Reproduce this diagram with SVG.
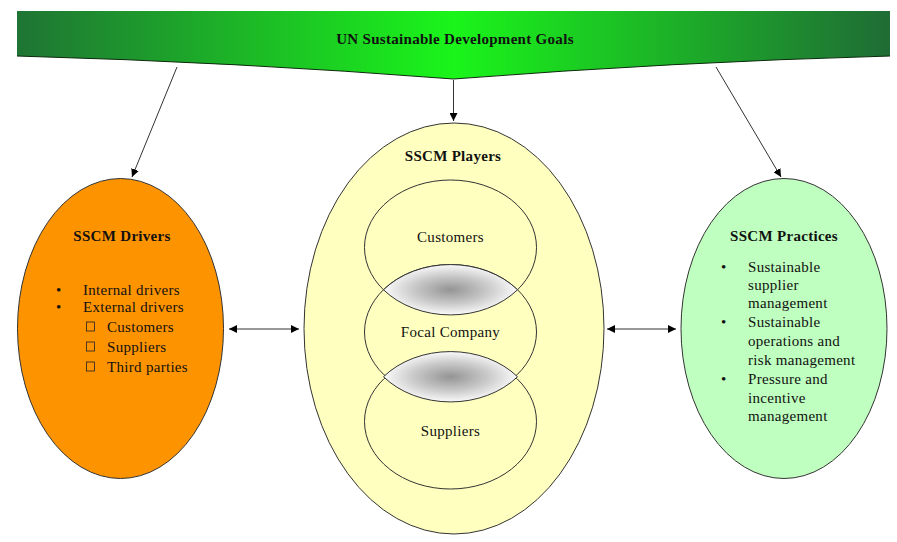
<svg xmlns="http://www.w3.org/2000/svg" width="897" height="542" viewBox="0 0 897 542">
<defs>
<linearGradient id="banner" x1="0" y1="0" x2="1" y2="0">
<stop offset="0" stop-color="#1f7434"/>
<stop offset="0.5" stop-color="#1af51a"/>
<stop offset="1" stop-color="#1f6c35"/>
</linearGradient>
<radialGradient id="lens" cx="0.5" cy="0.5" r="0.5">
<stop offset="0" stop-color="#949494"/>
<stop offset="0.55" stop-color="#c9c9c9"/>
<stop offset="1" stop-color="#fafafa"/>
</radialGradient>
<marker id="ah" viewBox="0 0 10 10" refX="10" refY="5" markerWidth="8" markerHeight="8" markerUnits="userSpaceOnUse" orient="auto-start-reverse">
<path d="M0,0 L10,5 L0,10 Z" fill="#000"/>
</marker>
<style>
text{font-family:"Liberation Serif","Times New Roman",serif;fill:#111;}
.t{font-size:15px;font-weight:bold;letter-spacing:0.3px;}
.b{font-size:15px;letter-spacing:0.3px;}
.c{text-anchor:middle;}
.sh{stroke:#333;stroke-width:1;}
.ln{stroke:#333;stroke-width:1;fill:none;}
</style>
</defs>

<g id="goals">
<path d="M17,11 H890 V56 Q672,62 453.5,79 Q235,62 17,56 Z" fill="url(#banner)"/>
<path d="M890,56 Q672,62 453.5,79 Q235,62 17,56" fill="none" stroke="#0b2a0b" stroke-width="1"/>
<text class="t c" x="455" y="44">UN Sustainable Development Goals</text>
</g>

<g id="connectors">
<line class="ln" x1="177" y1="67" x2="132" y2="177" marker-end="url(#ah)"/>
<line class="ln" x1="453.5" y1="80" x2="453.5" y2="121" marker-end="url(#ah)"/>
<line class="ln" x1="716" y1="67" x2="781" y2="177" marker-end="url(#ah)"/>
<line class="ln" x1="229" y1="329" x2="299" y2="329" marker-start="url(#ah)" marker-end="url(#ah)"/>
<line class="ln" x1="607" y1="329" x2="676" y2="329" marker-start="url(#ah)" marker-end="url(#ah)"/>
</g>

<g id="drivers">
<ellipse class="sh" cx="120.5" cy="328.5" rx="103" ry="150" fill="#fe9300"/>
<text class="t c" x="122" y="241">SSCM Drivers</text>
<text class="b" x="56" y="295">•</text>
<text class="b" x="83" y="295">Internal drivers</text>
<text class="b" x="56" y="312">•</text>
<text class="b" x="83" y="312">External drivers</text>
<rect x="86.5" y="322" width="8" height="9" fill="none" stroke="#222" stroke-width="0.8"/>
<text class="b" x="107" y="332">Customers</text>
<rect x="86.5" y="342" width="8" height="9" fill="none" stroke="#222" stroke-width="0.8"/>
<text class="b" x="107" y="352">Suppliers</text>
<rect x="86.5" y="362" width="8" height="9" fill="none" stroke="#222" stroke-width="0.8"/>
<text class="b" x="107" y="372">Third parties</text>
</g>

<g id="players">
<ellipse class="sh" cx="454" cy="328.5" rx="150" ry="205.5" fill="#ffffc0"/>
<text class="t c" x="453" y="161">SSCM Players</text>
</g>

<g id="customers">
<ellipse class="sh" cx="450.5" cy="247.5" rx="86" ry="67.5" fill="#ffffc0"/>
<text class="b c" x="450.5" y="242">Customers</text>
</g>

<g id="focal-company">
<ellipse class="sh" cx="450.5" cy="332" rx="86" ry="67.5" fill="#ffffc0"/>
<text class="b c" x="450.5" y="337">Focal Company</text>
</g>

<g id="suppliers">
<ellipse class="sh" cx="450.5" cy="421.5" rx="86" ry="67.5" fill="#ffffc0"/>
<text class="b c" x="450.5" y="436">Suppliers</text>
</g>

<g id="overlap-1">
<path d="M383.5,289.75 A86,67.5 0 0 1 517.5,289.75 A86,67.5 0 0 1 383.5,289.75 Z" fill="url(#lens)" class="sh"/>
</g>
<g id="overlap-2">
<path d="M383.5,376.75 A86,67.5 0 0 1 517.5,376.75 A86,67.5 0 0 1 383.5,376.75 Z" fill="url(#lens)" class="sh"/>
</g>

<g id="practices">
<ellipse class="sh" cx="784" cy="328.5" rx="103" ry="150" fill="#bfffbf"/>
<text class="t c" x="784" y="241">SSCM Practices</text>
<text class="b" x="721" y="272">•</text>
<text class="b" x="748" y="272">Sustainable</text>
<text class="b" x="748" y="290">supplier</text>
<text class="b" x="748" y="308">management</text>
<text class="b" x="721" y="327">•</text>
<text class="b" x="748" y="327">Sustainable</text>
<text class="b" x="748" y="346">operations and</text>
<text class="b" x="748" y="365">risk management</text>
<text class="b" x="721" y="384">•</text>
<text class="b" x="748" y="384">Pressure and</text>
<text class="b" x="748" y="403">incentive</text>
<text class="b" x="748" y="421">management</text>
</g>
</svg>
